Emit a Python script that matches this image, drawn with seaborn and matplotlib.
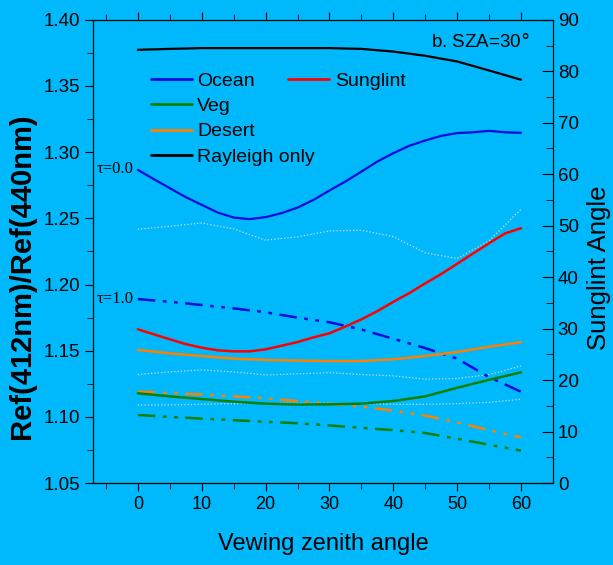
import numpy as np
import pandas as pd
import seaborn as sns
import matplotlib
matplotlib.use('Agg')
import matplotlib.pyplot as plt
from matplotlib.lines import Line2D

# viewing zenith angle (deg)
vza = [0, 5, 10, 15, 20, 25, 30, 35, 40, 45, 50, 55, 60]
vza_fine = [0, 2.5, 5, 7.5, 10, 12.5, 15, 17.5, 20, 22.5, 25, 27.5, 30,
            32.5, 35, 37.5, 40, 42.5, 45, 47.5, 50, 52.5, 55, 57.5, 60]

# ratio Ref(412)/Ref(440), tau = 0.0 (solid) and tau = 1.0 (dash-dot)
ocean_t0 = [1.2866, 1.2796, 1.2728, 1.2660, 1.2602, 1.2544, 1.2506, 1.2494, 1.2509,
            1.2539, 1.2581, 1.2639, 1.2710, 1.2778, 1.2853, 1.2929, 1.2992, 1.3048,
            1.3088, 1.3123, 1.3144, 1.3150, 1.3161, 1.3150, 1.3146]
ocean_t1 = [1.189, 1.187, 1.1845, 1.182, 1.179, 1.175, 1.1715, 1.166, 1.159, 1.152, 1.144, 1.130, 1.119]
veg_t0 = [1.1178, 1.1155, 1.1135, 1.1115, 1.110, 1.1093, 1.1095, 1.110, 1.112, 1.1155, 1.122, 1.128, 1.1337]
veg_t1 = [1.1014, 1.100, 1.0987, 1.0975, 1.0963, 1.0952, 1.0935, 1.0918, 1.090, 1.0878, 1.0835, 1.079, 1.0745]
desert_t0 = [1.1506, 1.148, 1.146, 1.144, 1.143, 1.1425, 1.1422, 1.1422, 1.1435, 1.146, 1.149, 1.153, 1.1564]
desert_t1 = [1.1191, 1.118, 1.117, 1.1155, 1.114, 1.112, 1.110, 1.1078, 1.1047, 1.101, 1.0958, 1.090, 1.0845]
rayleigh = [1.3773, 1.378, 1.3786, 1.3786, 1.3786, 1.3786, 1.3786, 1.378, 1.376, 1.3728, 1.3685, 1.3617, 1.3547]

# thin dotted reference curves
dot_a = [1.2418, 1.244, 1.2465, 1.242, 1.2335, 1.236, 1.2405, 1.241, 1.2362, 1.224, 1.2196, 1.233, 1.2569]
dot_b = [1.132, 1.134, 1.1355, 1.134, 1.1317, 1.1325, 1.1334, 1.132, 1.131, 1.1285, 1.129, 1.132, 1.1385]
dot_c = [1.109, 1.109, 1.1095, 1.110, 1.1103, 1.1103, 1.1103, 1.110, 1.1095, 1.1095, 1.110, 1.111, 1.1133]

# sunglint angle (right axis, deg)
sunglint = [29.87, 28.9, 27.93, 27.0, 26.3, 25.79, 25.59, 25.59, 25.98, 26.68, 27.4, 28.3, 29.1,
            30.4, 31.8, 33.4, 35.2, 36.9, 38.8, 40.6, 42.6, 44.6, 46.6, 48.5, 49.5]

bg = '#00b9fd'
sns.set_style("ticks", {"axes.facecolor": bg, "figure.facecolor": bg,
                        "axes.edgecolor": "black", "text.color": "black",
                        "axes.labelcolor": "black", "xtick.color": "black",
                        "ytick.color": "black"})
plt.rcParams['font.family'] = ['Liberation Sans', 'DejaVu Sans']

fig, ax = plt.subplots(figsize=(6.13, 5.65), dpi=100)
fig.subplots_adjust(left=0.152, right=0.902, top=0.965, bottom=0.145)
ax2 = ax.twinx()

dashdot = (0, (7, 3, 1.5, 3, 1.5, 3))

sns.lineplot(x=vza, y=dot_a, ax=ax, color='#d8d8d8', lw=0.9, ls=':')
sns.lineplot(x=vza, y=dot_b, ax=ax, color='#d8d8d8', lw=0.9, ls=':')
sns.lineplot(x=vza, y=dot_c, ax=ax, color='#d8d8d8', lw=0.9, ls=':')

sns.lineplot(x=vza, y=rayleigh, ax=ax, color='black', lw=1.6)
sns.lineplot(x=vza_fine, y=ocean_t0, ax=ax, color='#0a0ae0', lw=1.6)
sns.lineplot(x=vza, y=ocean_t1, ax=ax, color='#0a0ae0', lw=1.8, ls=dashdot)
sns.lineplot(x=vza, y=desert_t0, ax=ax, color='#ff8000', lw=1.8)
sns.lineplot(x=vza, y=desert_t1, ax=ax, color='#ff8000', lw=1.8, ls=dashdot)
sns.lineplot(x=vza, y=veg_t0, ax=ax, color='#068006', lw=1.8)
sns.lineplot(x=vza, y=veg_t1, ax=ax, color='#068006', lw=1.8, ls=dashdot)
sns.lineplot(x=vza_fine, y=sunglint, ax=ax2, color='#ff0000', lw=1.8)

ax.set_xlim(-7, 65)
ax.set_ylim(1.05, 1.40)
ax2.set_ylim(0, 90)

ax.set_xticks([0, 10, 20, 30, 40, 50, 60])
ax.set_xticks(np.arange(-5, 65, 10), minor=True)
ax.set_yticks(np.arange(1.05, 1.401, 0.05))
ax.set_yticks(np.arange(1.075, 1.40, 0.05), minor=True)
ax.yaxis.set_major_formatter(matplotlib.ticker.FormatStrFormatter('%.2f'))
ax2.set_yticks(np.arange(0, 91, 10))
ax2.set_yticks(np.arange(5, 90, 10), minor=True)

ax.tick_params(axis='x', which='both', top=True, direction='out', labelsize=13)
ax.tick_params(axis='x', which='major', length=6)
ax.tick_params(axis='x', which='minor', length=4)
ax.tick_params(axis='y', which='major', length=6, labelsize=13.5)
ax.tick_params(axis='y', which='minor', length=4)
ax2.tick_params(axis='y', which='major', direction='in', length=8, labelsize=13.5)
ax2.tick_params(axis='y', which='minor', direction='in', length=5)

ax.set_xlabel('Vewing zenith angle', fontsize=17, labelpad=14)
ax.set_ylabel('Ref(412nm)/Ref(440nm)', fontsize=21, fontweight='bold')
ax.yaxis.set_label_coords(-0.125, 0.447)
ax2.set_ylabel('Sunglint Angle', fontsize=18.5)
ax2.yaxis.set_label_coords(1.074, 0.464)

ax.text(61.3, 1.3834, 'b. SZA=30$\\degree$', fontsize=13.5, ha='right', va='center')
ax.text(-6.5, 1.287, '\u03c4=0.0', fontsize=12, family='Liberation Serif', va='center')
ax.text(-6.5, 1.189, '\u03c4=1.0', fontsize=12, family='Liberation Serif', va='center')

h1 = [Line2D([], [], color='#0a0ae0', lw=2),
      Line2D([], [], color='#068006', lw=2),
      Line2D([], [], color='#ff8000', lw=2),
      Line2D([], [], color='black', lw=2)]
leg1 = ax.legend(h1, ['Ocean', 'Veg', 'Desert', 'Rayleigh only'], loc='upper left',
                 bbox_to_anchor=(0.087, 0.925), frameon=False, fontsize=14,
                 handlelength=2.1, handletextpad=0.3, labelspacing=0.4)
ax.add_artist(leg1)
ax.legend([Line2D([], [], color='#ff0000', lw=2)], ['Sunglint'], loc='upper left',
          bbox_to_anchor=(0.386, 0.925), frameon=False, fontsize=14,
          handlelength=2.1, handletextpad=0.3)

fig.savefig('out.png', dpi=100, facecolor=bg)
